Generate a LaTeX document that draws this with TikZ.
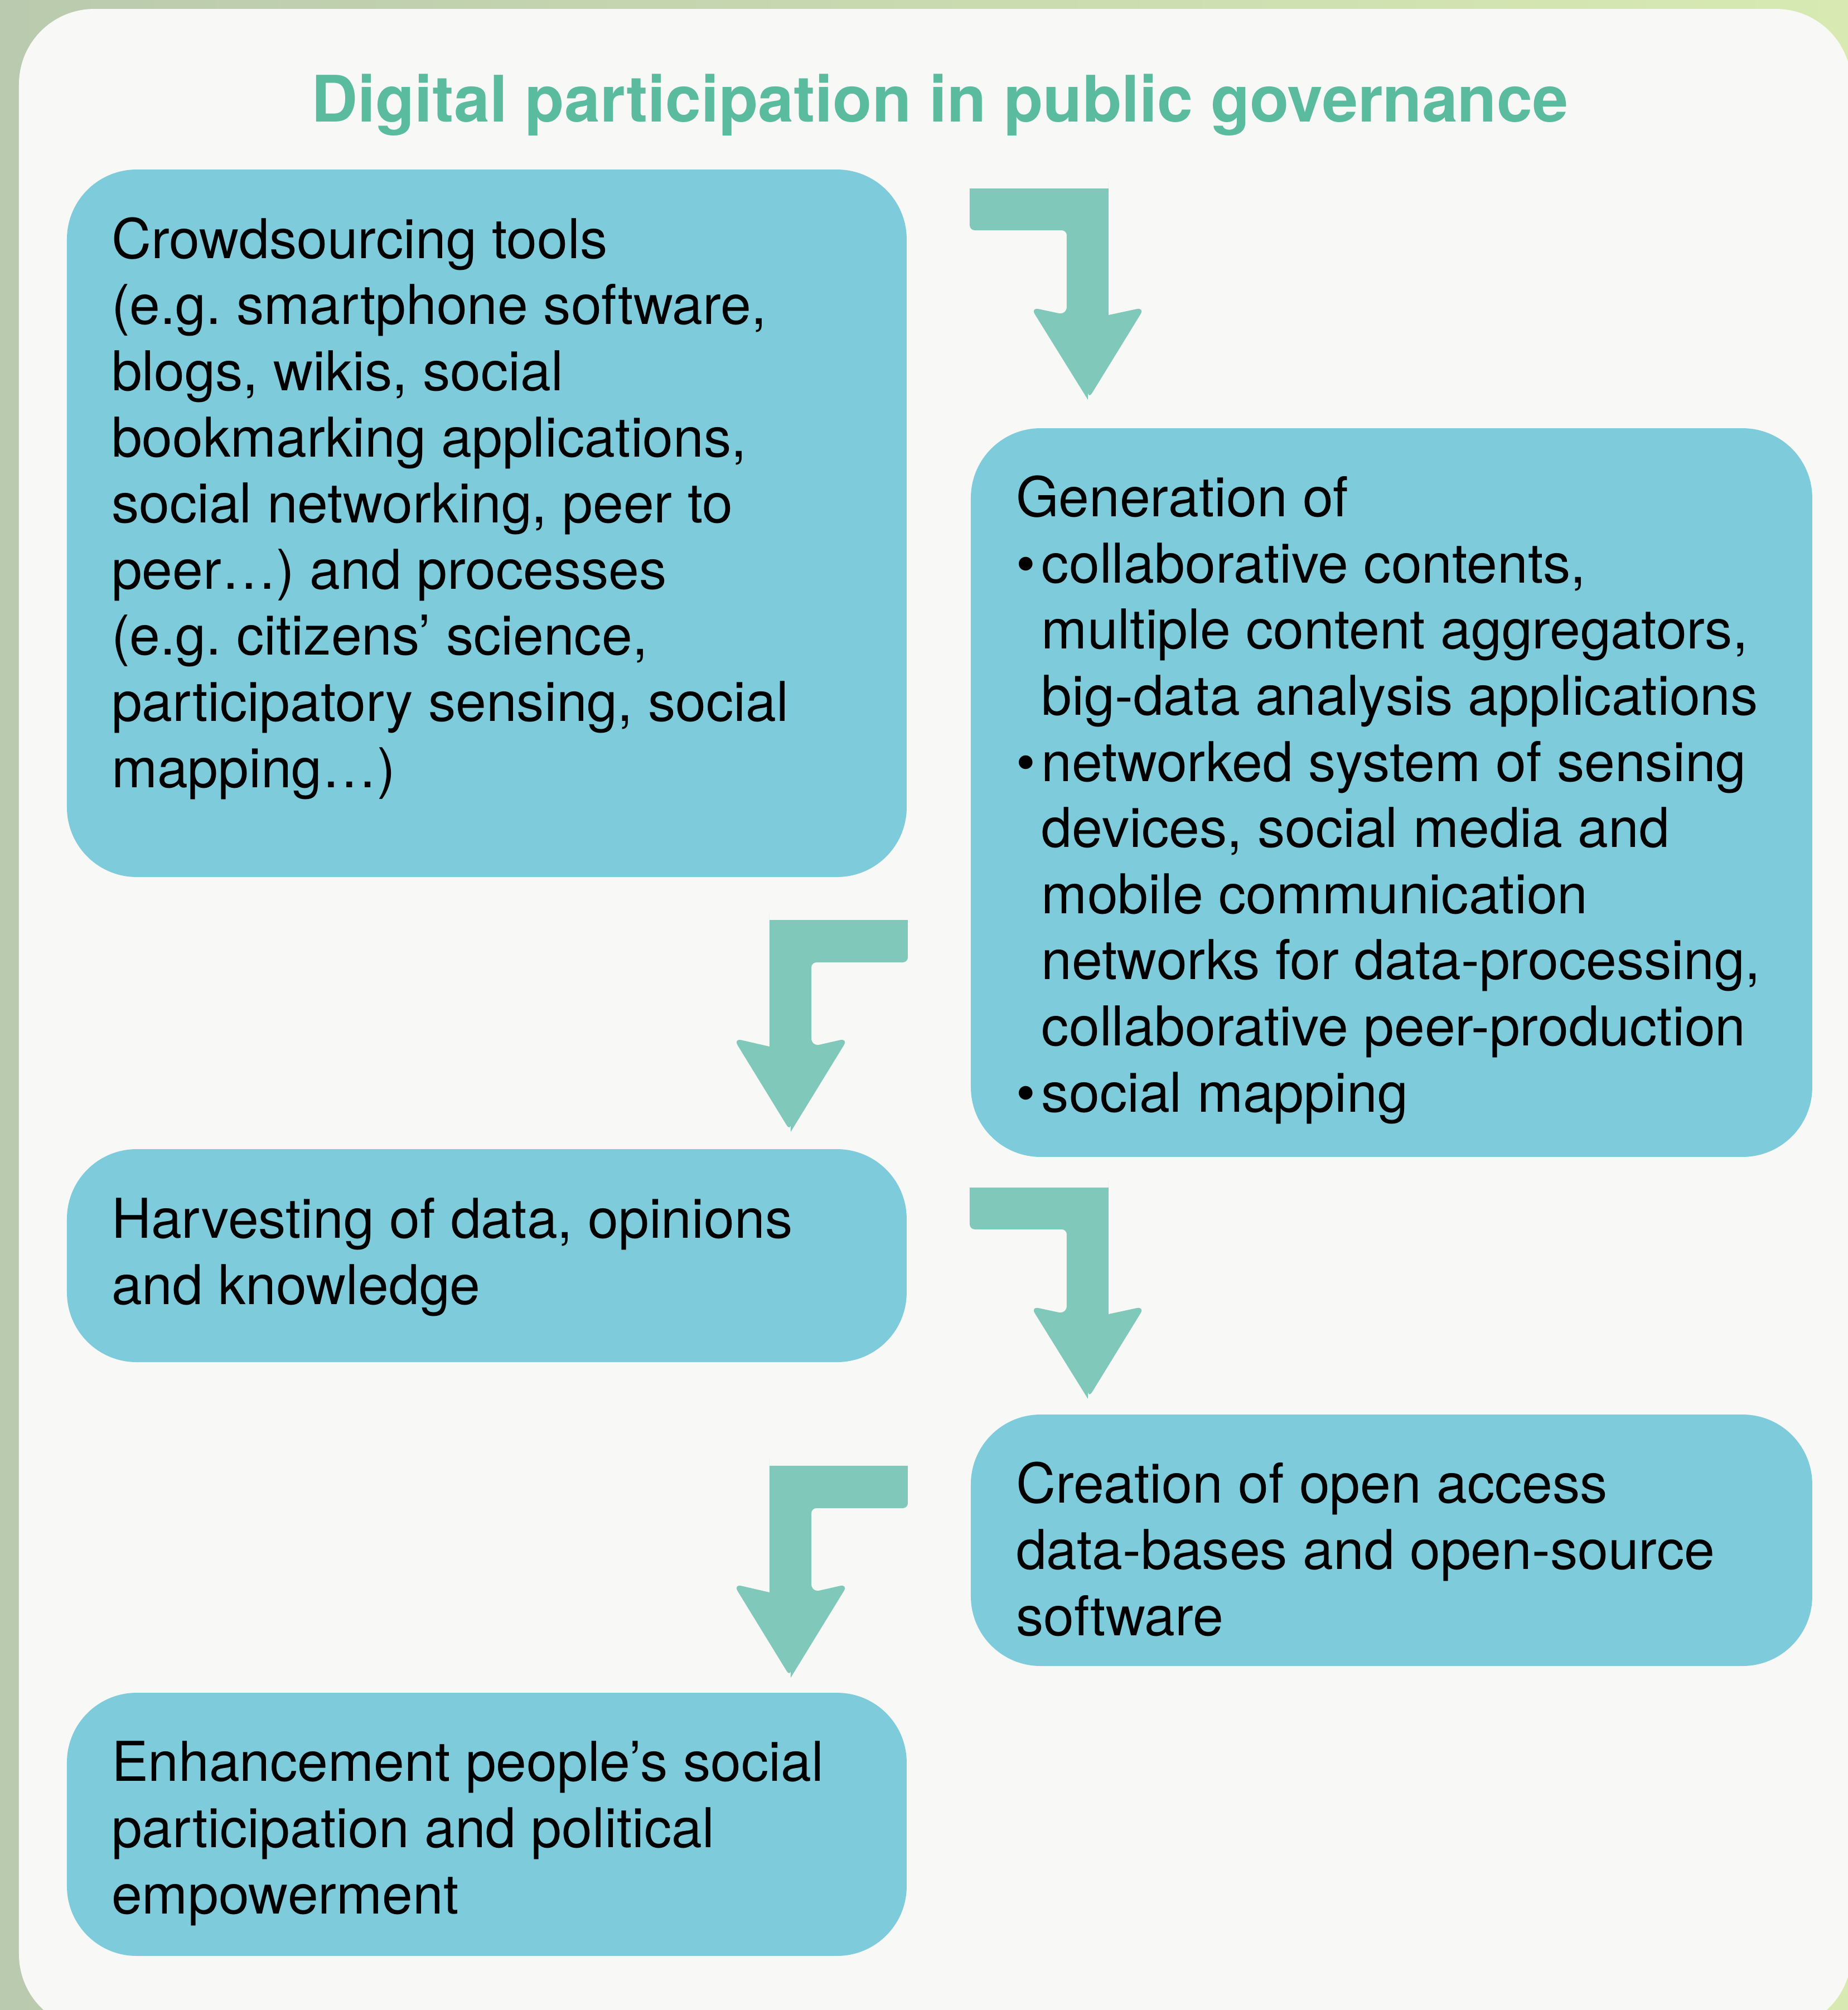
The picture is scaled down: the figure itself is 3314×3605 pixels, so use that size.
\documentclass[tikz,border=0pt]{standalone}
\usepackage{fontspec}
\setmainfont{TeX Gyre Heros}
\frenchspacing
\definecolor{bgL}{HTML}{BACAAE}
\definecolor{bgR}{HTML}{D8EAB2}
\definecolor{panelc}{HTML}{F8F9F6}
\definecolor{boxc}{HTML}{7ECBDB}
\definecolor{arrc}{HTML}{80C9BA}
\definecolor{titlec}{HTML}{5BBB9F}
\newlength{\bw}\setlength{\bw}{4.6pt}
\newcommand{\bul}{\makebox[\bw][l]{•}}
\newcommand{\ind}{\hspace*{\bw}}
\newcommand{\arrowRgt}{%
  \fill[arrc] (1739,338) -- (1988,338) [rounded corners=1.2pt] -- (1988,338) -- (1988,565) [sharp corners] -- (1988,565)
    [rounded corners=1.5pt] -- (2053,551) -- (1951,717) [sharp corners] -- (1951,717)
    [rounded corners=1.5pt] -- (1848,551) -- (1913,565) [sharp corners] -- (1913,565)
    [rounded corners=0.9pt] -- (1913,413) -- (1739,413) [sharp corners] -- cycle;}
\newcommand{\arrowLft}{%
  \fill[arrc] (1628,1650) -- (1380,1650) [rounded corners=1.2pt] -- (1380,1650) -- (1380,1877) [sharp corners] -- (1380,1877)
    [rounded corners=1.5pt] -- (1315,1862) -- (1418,2030) [sharp corners] -- (1418,2030)
    [rounded corners=1.5pt] -- (1521,1862) -- (1455,1877) [sharp corners] -- (1455,1877)
    [rounded corners=0.9pt] -- (1455,1726) -- (1628,1726) [sharp corners] -- cycle;}
\begin{document}
\begin{tikzpicture}[x=0.1pt,y=-0.1pt,
  box/.style={fill=boxc, rounded corners=12.5pt, anchor=north west, inner sep=0pt, outer sep=0pt},
  txt/.style={anchor=base west, align=left, inner sep=0pt, outer sep=0pt, font=\fontsize{9.85pt}{11.86pt}\selectfont},
  titlestyle/.style={anchor=base, inner sep=0pt, text=titlec, font=\fontsize{11.5pt}{13pt}\selectfont\bfseries}]
\useasboundingbox (0,0) rectangle (3314,3605);
\clip (0,0) rectangle (3314,3605);
\shade[left color=bgL, right color=bgR] (0,0) rectangle (3314,3605);
\fill[panelc, rounded corners=13.5pt] (34,16) rectangle (3320,3640);

\node[titlestyle] (title) at (1685,218) {Digital participation in public governance};

\node[box, minimum width=150.6pt, minimum height=126.9pt] (A) at (120,304) {};
\node[box, minimum width=150.9pt, minimum height=130.7pt] (B) at (1741,768) {};
\node[box, minimum width=150.6pt, minimum height=38.2pt] (C) at (120,2061) {};
\node[box, minimum width=150.9pt, minimum height=45.1pt] (D) at (1741,2537) {};
\node[box, minimum width=150.6pt, minimum height=47.2pt] (E) at (120,3036) {};

% anchor = baseline of the last line
\node[txt] (At) at ([shift={(80,1108)}]A.north west) {Crowdsourcing tools\\
(e.g. smartphone software,\\
blogs, wikis, social\\
bookmarking applications,\\
social networking, peer to\\
peer…) and processes\\
(e.g. citizens’ science,\\
participatory sensing, social\\
mapping…)};

\node[txt] (Bt) at ([shift={(81,1226)}]B.north west) {Generation of\\
\bul collaborative contents,\\
\ind multiple content aggregators,\\
\ind big-data analysis applications\\
\bul networked system of sensing\\
\ind devices, social media and\\
\ind mobile communication\\
\ind networks for data-processing,\\
\ind collaborative peer-production\\
\bul social mapping};

\node[txt] (Ct) at ([shift={(80,278)}]C.north west) {Harvesting of data, opinions\\
and knowledge};

\node[txt] (Dt) at ([shift={(81,396)}]D.north west) {Creation of open access\\
data-bases and open-source\\
software};

\node[txt] (Et) at ([shift={(80,396)}]E.north west) {Enhancement people’s social\\
participation and political\\
empowerment};

\arrowRgt
\begin{scope}[yshift=-179.2pt]\arrowRgt\end{scope}
\arrowLft
\begin{scope}[yshift=-97.9pt]\arrowLft\end{scope}
\end{tikzpicture}
\end{document}
